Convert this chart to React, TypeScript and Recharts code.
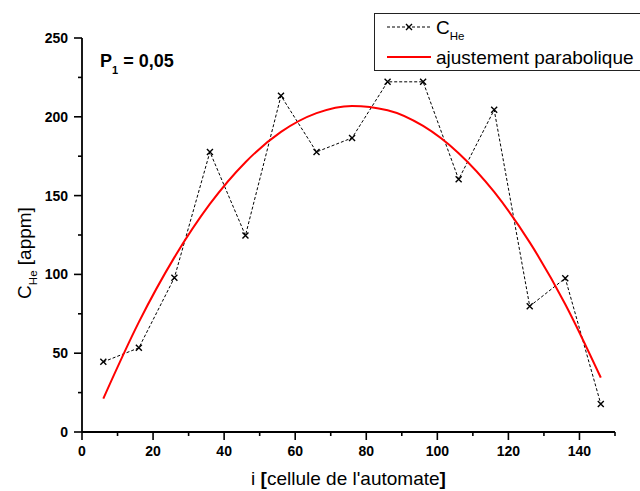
import { LineChart, Line, XAxis, YAxis } from "recharts"

const cellIndex = [6, 16, 26, 36, 46, 56, 66, 76, 86, 96, 106, 116, 126, 136, 146]
const heConc = [44.5, 53.4, 97.9, 177.7, 124.7, 213.3, 177.7, 186.6, 222.2, 222.2, 160.3, 204.4, 79.8, 97.6, 17.8]
const fitConc = [21.2, 69.7, 110.8, 144.7, 171.2, 190.4, 202.3, 206.9, 204.2, 194.2, 176.9, 152.3, 120.3, 81.1, 34.5]
const xTicks = [0, 10, 20, 30, 40, 50, 60, 70, 80, 90, 100, 110, 120, 130, 140, 150]
const yTicks = [0, 25, 50, 75, 100, 125, 150, 175, 200, 225, 250]

const data = cellIndex.map((i, k) => ({ i, he: heConc[k], fit: fitConc[k] }))

const font = "'Liberation Sans', Arial, sans-serif"

function XTick({ x, y, payload }: any) {
  const major = payload.value % 20 === 0
  const axisY = y - 14
  return (
    <g>
      <line x1={x} x2={x} y1={axisY} y2={axisY + (major ? 8 : 4)} stroke="#000" strokeWidth={1.6} />
      {major && (
        <text x={x} y={y} dy="0.71em" textAnchor="middle" fontSize={14} fontWeight="bold" fontFamily={font} fill="#000">
          {payload.value}
        </text>
      )}
    </g>
  )
}

function YTick({ x, y, payload }: any) {
  const major = payload.value % 50 === 0
  const axisX = x + 14
  return (
    <g>
      <line x1={axisX} x2={axisX - (major ? 8 : 4)} y1={y} y2={y} stroke="#000" strokeWidth={1.6} />
      {major && (
        <text x={x} y={y} dy="0.355em" textAnchor="end" fontSize={14} fontWeight="bold" fontFamily={font} fill="#000">
          {payload.value}
        </text>
      )}
    </g>
  )
}

function CrossDot({ cx, cy }: any) {
  if (cx == null || cy == null) return null
  return (
    <path
      d={`M${cx - 3},${cy - 3}L${cx + 3},${cy + 3}M${cx - 3},${cy + 3}L${cx + 3},${cy - 3}`}
      stroke="#000"
      strokeWidth={1.4}
      fill="none"
    />
  )
}

export default function App() {
  return (
    <div style={{ position: "absolute", left: 0, top: 0, width: 640, height: 491, overflow: "hidden", background: "#fff" }}>
      <LineChart width={640} height={491} data={data} margin={{ top: 38, right: 25, left: 0, bottom: 0 }}>
        <XAxis
          dataKey="i"
          type="number"
          domain={[0, 150]}
          ticks={xTicks}
          interval={0}
          height={59}
          tickSize={8}
          tickMargin={6}
          tickLine={false}
          axisLine={{ stroke: "#000", strokeWidth: 1.8 }}
          tick={<XTick />}
        />
        <YAxis
          type="number"
          domain={[0, 250]}
          ticks={yTicks}
          interval={0}
          width={82}
          tickSize={8}
          tickMargin={6}
          tickLine={false}
          axisLine={{ stroke: "#000", strokeWidth: 1.8 }}
          tick={<YTick />}
        />
        <Line
          dataKey="he"
          stroke="#000"
          strokeWidth={1}
          strokeDasharray="3 2"
          dot={<CrossDot />}
          activeDot={false}
          isAnimationActive={false}
        />
        <Line
          dataKey="fit"
          type="monotone"
          stroke="#ff0000"
          strokeWidth={2}
          dot={false}
          activeDot={false}
          isAnimationActive={false}
        />
      </LineChart>

      <svg width={640} height={491} style={{ position: "absolute", left: 0, top: 0, pointerEvents: "none" }} fontFamily={font}>
        {/* P1 annotation */}
        <text x={100} y={67} fontSize={18} fontWeight="bold" fill="#000">
          P<tspan fontSize={11} dy={7}>1</tspan>
          <tspan dy={-7}> = 0,05</tspan>
        </text>

        {/* legend */}
        <rect x={374.5} y={13.5} width={280} height={57} fill="#fff" stroke="#222" strokeWidth={1} />
        <line x1={387} x2={432} y1={27} y2={27} stroke="#000" strokeWidth={1} strokeDasharray="3 2" />
        <path d="M406,24L412,30M406,30L412,24" stroke="#000" strokeWidth={1.4} />
        <text x={436} y={34} fontSize={19} fill="#000">
          C<tspan fontSize={11.5} dy={6}>He</tspan>
        </text>
        <line x1={387} x2={431} y1={57} y2={57} stroke="#ff0000" strokeWidth={2} />
        <text x={436} y={63.5} fontSize={19} fill="#000">
          ajustement parabolique
        </text>

        {/* axis titles */}
        <text x={348.5} y={485} fontSize={19} textAnchor="middle" fill="#000">
          i <tspan fontWeight="bold">[</tspan>cellule de l'automate<tspan fontWeight="bold">]</tspan>
        </text>
        <text x={31} y={253} fontSize={19} textAnchor="middle" fill="#000" transform="rotate(-90, 31, 253)">
          C<tspan fontSize={11.5} dy={6}>He</tspan>
          <tspan dy={-6}> [appm]</tspan>
        </text>
      </svg>
    </div>
  )
}
